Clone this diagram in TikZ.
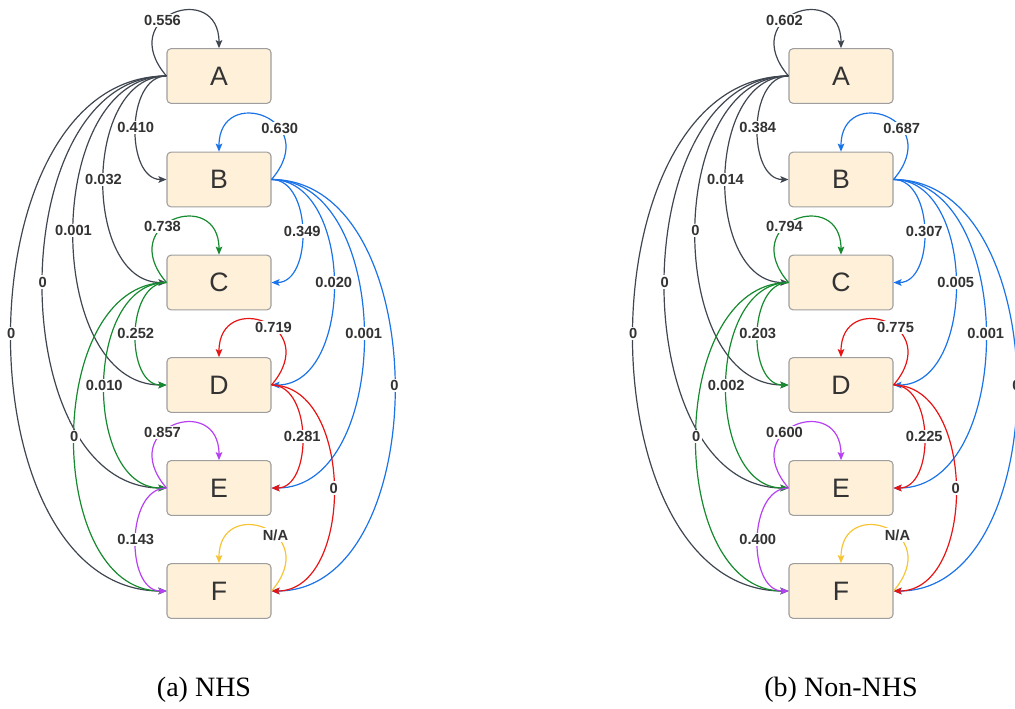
\documentclass[tikz,border=0pt]{standalone}
\usepackage{fontspec}
\setmainfont{Liberation Serif}
\newfontfamily\diafont{Liberation Sans}
\usetikzlibrary{arrows.meta}

\definecolor{boxfill}{HTML}{FFF0D9}
\definecolor{boxline}{HTML}{9E9E9E}
\definecolor{txt}{HTML}{333333}
\definecolor{cgray}{HTML}{3F4650}
\definecolor{cblue}{HTML}{1A73E8}
\definecolor{cgreen}{HTML}{168A2E}
\definecolor{cred}{HTML}{E81313}
\definecolor{cpurple}{HTML}{B640F2}
\definecolor{cyellow}{HTML}{F7C435}

\tikzset{
  state/.style={draw=boxline, fill=boxfill, rounded corners=3pt, line width=0.8pt,
    minimum width=78pt, minimum height=41pt, inner sep=0pt, text=txt,
    font=\diafont\fontsize{20}{24}\selectfont},
  lbl/.style={fill=white, inner sep=1pt, text=txt,
    font=\diafont\bfseries\fontsize{11}{13}\selectfont},
  link/.style={line width=0.9pt, -{Stealth[length=6pt,width=5pt,inset=1.2pt]}},
  caption/.style={font=\fontsize{21}{25}\selectfont, text=black},
}

\begin{document}
\begin{tikzpicture}[x=0.75pt,y=-0.75pt]
\useasboundingbox (0,0) rectangle (1015,708);
\clip (0,0) rectangle (1015,708);

% ---------------- (a) NHS ----------------
\node[state] (A1) at (219,76) {A};
\node[state] (B1) at (219,179.5) {B};
\node[state] (C1) at (219,282.5) {C};
\node[state] (D1) at (219,385) {D};
\node[state] (E1) at (219,488) {E};
\node[state] (F1) at (219,591) {F};

% transitions out of A
\draw[link,cgray] (A1.west) .. controls +(-52,-61) and +(0,-68) .. (A1.north) node[lbl,pos=0.4]{0.556};
\draw[link,cgray] (A1.west) .. controls +(-207,0) and +(-207,0) .. (F1.west) node[lbl,pos=0.5]{0};
\draw[link,cgray] (A1.west) .. controls +(-165,0) and +(-165,0) .. (E1.west) node[lbl,pos=0.5]{0};
\draw[link,cgray] (A1.west) .. controls +(-124,0) and +(-124,0) .. (D1.west) node[lbl,pos=0.5]{0.001};
\draw[link,cgray] (A1.west) .. controls +(-84,0) and +(-84,0) .. (C1.west) node[lbl,pos=0.5]{0.032};
\draw[link,cgray] (A1.west) .. controls +(-41,0) and +(-41,0) .. (B1.west) node[lbl,pos=0.5]{0.410};

% transitions out of C
\draw[link,cgreen] (C1.west) .. controls +(-52,-61) and +(0,-68) .. (C1.north) node[lbl,pos=0.4]{0.738};
\draw[link,cgreen] (C1.west) .. controls +(-123,0) and +(-123,0) .. (F1.west) node[lbl,pos=0.5]{0};
\draw[link,cgreen] (C1.west) .. controls +(-83,0) and +(-83,0) .. (E1.west) node[lbl,pos=0.5]{0.010};
\draw[link,cgreen] (C1.west) .. controls +(-41,0) and +(-41,0) .. (D1.west) node[lbl,pos=0.5]{0.252};

% transitions out of E
\draw[link,cpurple] (E1.west) .. controls +(-52,-61) and +(0,-68) .. (E1.north) node[lbl,pos=0.4]{0.857};
\draw[link,cpurple] (E1.west) .. controls +(-41,0) and +(-41,0) .. (F1.west) node[lbl,pos=0.5]{0.143};

% transitions out of B
\draw[link,cblue] (B1.east) .. controls +(52,-61) and +(0,-68) .. (B1.north) node[lbl,pos=0.35]{0.630};
\draw[link,cblue] (B1.east) .. controls +(164,0) and +(164,0) .. (F1.east) node[lbl,pos=0.5]{0};
\draw[link,cblue] (B1.east) .. controls +(123,0) and +(123,0) .. (E1.east) node[lbl,pos=0.5]{0.001};
\draw[link,cblue] (B1.east) .. controls +(83,0) and +(83,0) .. (D1.east) node[lbl,pos=0.5]{0.020};
\draw[link,cblue] (B1.east) .. controls +(41,0) and +(41,0) .. (C1.east) node[lbl,pos=0.5]{0.349};

% transitions out of D
\draw[link,cred] (D1.east) .. controls +(52,-61) and +(0,-68) .. (D1.north) node[lbl,pos=0.42]{0.719};
\draw[link,cred] (D1.east) .. controls +(83,0) and +(83,0) .. (F1.east) node[lbl,pos=0.5]{0};
\draw[link,cred] (D1.east) .. controls +(41,0) and +(41,0) .. (E1.east) node[lbl,pos=0.5]{0.281};

% F
\draw[link,cyellow] (F1.east) .. controls +(52,-61) and +(0,-68) .. (F1.north) node[lbl,pos=0.4]{N/A};

\node[caption] (capa) at (204,690) {(a) NHS};

% ---------------- (b) Non-NHS ----------------
\node[state] (A2) at (841,76) {A};
\node[state] (B2) at (841,179.5) {B};
\node[state] (C2) at (841,282.5) {C};
\node[state] (D2) at (841,385) {D};
\node[state] (E2) at (841,488) {E};
\node[state] (F2) at (841,591) {F};

\draw[link,cgray] (A2.west) .. controls +(-52,-61) and +(0,-68) .. (A2.north) node[lbl,pos=0.4]{0.602};
\draw[link,cgray] (A2.west) .. controls +(-207,0) and +(-207,0) .. (F2.west) node[lbl,pos=0.5]{0};
\draw[link,cgray] (A2.west) .. controls +(-165,0) and +(-165,0) .. (E2.west) node[lbl,pos=0.5]{0};
\draw[link,cgray] (A2.west) .. controls +(-124,0) and +(-124,0) .. (D2.west) node[lbl,pos=0.5]{0};
\draw[link,cgray] (A2.west) .. controls +(-84,0) and +(-84,0) .. (C2.west) node[lbl,pos=0.5]{0.014};
\draw[link,cgray] (A2.west) .. controls +(-41,0) and +(-41,0) .. (B2.west) node[lbl,pos=0.5]{0.384};

\draw[link,cgreen] (C2.west) .. controls +(-52,-61) and +(0,-68) .. (C2.north) node[lbl,pos=0.4]{0.794};
\draw[link,cgreen] (C2.west) .. controls +(-123,0) and +(-123,0) .. (F2.west) node[lbl,pos=0.5]{0};
\draw[link,cgreen] (C2.west) .. controls +(-83,0) and +(-83,0) .. (E2.west) node[lbl,pos=0.5]{0.002};
\draw[link,cgreen] (C2.west) .. controls +(-41,0) and +(-41,0) .. (D2.west) node[lbl,pos=0.5]{0.203};

\draw[link,cpurple] (E2.west) .. controls +(-52,-61) and +(0,-68) .. (E2.north) node[lbl,pos=0.4]{0.600};
\draw[link,cpurple] (E2.west) .. controls +(-41,0) and +(-41,0) .. (F2.west) node[lbl,pos=0.5]{0.400};

\draw[link,cblue] (B2.east) .. controls +(52,-61) and +(0,-68) .. (B2.north) node[lbl,pos=0.35]{0.687};
\draw[link,cblue] (B2.east) .. controls +(164,0) and +(164,0) .. (F2.east) node[lbl,pos=0.5]{0};
\draw[link,cblue] (B2.east) .. controls +(123,0) and +(123,0) .. (E2.east) node[lbl,pos=0.5]{0.001};
\draw[link,cblue] (B2.east) .. controls +(83,0) and +(83,0) .. (D2.east) node[lbl,pos=0.5]{0.005};
\draw[link,cblue] (B2.east) .. controls +(41,0) and +(41,0) .. (C2.east) node[lbl,pos=0.5]{0.307};

\draw[link,cred] (D2.east) .. controls +(52,-61) and +(0,-68) .. (D2.north) node[lbl,pos=0.42]{0.775};
\draw[link,cred] (D2.east) .. controls +(83,0) and +(83,0) .. (F2.east) node[lbl,pos=0.5]{0};
\draw[link,cred] (D2.east) .. controls +(41,0) and +(41,0) .. (E2.east) node[lbl,pos=0.5]{0.225};

\draw[link,cyellow] (F2.east) .. controls +(52,-61) and +(0,-68) .. (F2.north) node[lbl,pos=0.4]{N/A};

\node[caption] (capb) at (841,690) {(b) Non-NHS};
\end{tikzpicture}
\end{document}
